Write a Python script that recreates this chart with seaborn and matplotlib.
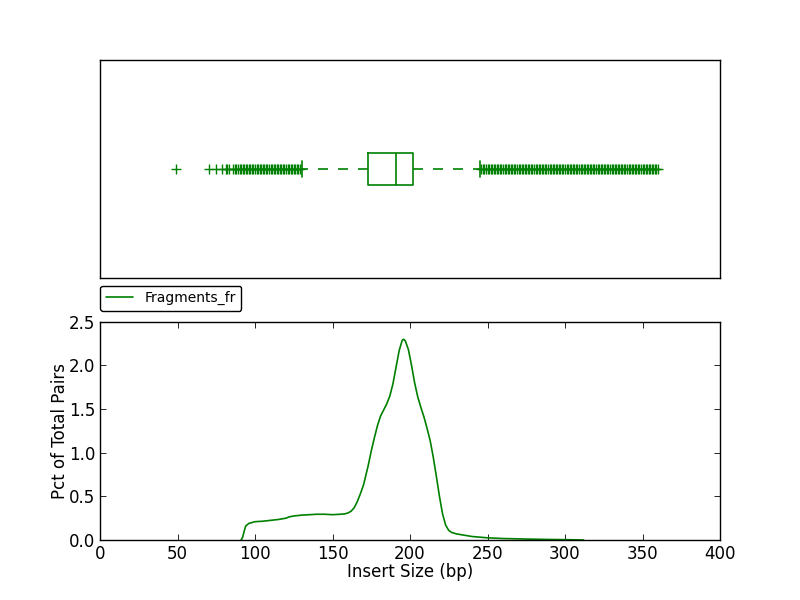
import numpy as np
import matplotlib
matplotlib.use('Agg')
import matplotlib.pyplot as plt
import seaborn as sns

# --- data ---
# insert size distribution (bottom panel)
insert_size = [91, 92, 93, 94, 96, 100, 105, 110, 115, 120, 122, 125, 130, 135, 140,
               145, 150, 155, 158, 160, 162, 164, 166, 168, 170, 173, 175, 177, 179,
               181, 183, 185, 187, 189, 191, 193, 195, 196, 197, 199, 201, 203, 205,
               207, 209, 211, 213, 215, 217, 219, 221, 223, 225, 227, 230, 235, 240,
               250, 260, 275, 290, 300, 312]
pct_pairs = [0.0, 0.03, 0.10, 0.16, 0.19, 0.21, 0.215, 0.225, 0.235, 0.25, 0.265,
             0.275, 0.285, 0.29, 0.295, 0.295, 0.29, 0.295, 0.30, 0.31, 0.33, 0.37,
             0.44, 0.53, 0.63, 0.85, 1.02, 1.17, 1.31, 1.42, 1.49, 1.56, 1.65, 1.79,
             1.98, 2.17, 2.29, 2.30, 2.28, 2.18, 2.00, 1.80, 1.64, 1.52, 1.41, 1.28,
             1.14, 0.95, 0.73, 0.50, 0.30, 0.17, 0.11, 0.085, 0.07, 0.055, 0.04,
             0.025, 0.017, 0.011, 0.006, 0.004, 0.0]

# box plot (top panel): outliers, whisker ends, quartiles
fliers_low = [49, 70, 75, 79, 81, 82, 83] + list(range(86, 130))
fliers_high = list(range(246, 361))
whisker_ends = [130, 245]
quartiles = [173, 191, 202]   # Q1, median, Q3
quartile_weight = 400          # samples sitting on each quartile value

box_data = fliers_low + whisker_ends + list(np.repeat(quartiles, quartile_weight)) + fliers_high

# --- style ---
sns.set_style('white')
plt.rcParams.update({
    'font.family': ['DejaVu Sans'],
    'font.size': 12,
    'text.color': 'black',
    'axes.labelcolor': 'black',
    'axes.edgecolor': 'black',
    'axes.linewidth': 1.0,
    'xtick.direction': 'in',
    'ytick.direction': 'in',
    'xtick.top': True,
    'ytick.right': True,
    'xtick.bottom': True,
    'ytick.left': True,
    'xtick.major.size': 4,
    'ytick.major.size': 4,
    'xtick.major.width': 0.6,
    'ytick.major.width': 0.6,
    'xtick.color': 'black',
    'ytick.color': 'black',
    'xtick.labelsize': 12,
    'ytick.labelsize': 12,
    'axes.labelsize': 12,
})

fig = plt.figure(figsize=(8, 6), dpi=100)
fig.subplots_adjust(left=0.125, right=0.9, top=0.9, bottom=0.1, hspace=0.2)
ax1 = fig.add_subplot(2, 1, 1)
ax2 = fig.add_subplot(2, 1, 2)

# --- top: box plot ---
dash = (0, (6, 6))
sns.boxplot(x=box_data, ax=ax1, orient='h', width=0.15, fill=False,
            color='green', linecolor='green', saturation=1, linewidth=1.2,
            whis=1.5,
            whiskerprops=dict(linestyle=dash, color='green'),
            capprops=dict(color='green'),
            medianprops=dict(color='green'),
            flierprops=dict(marker='+', markersize=7, markeredgecolor='green',
                            markeredgewidth=1.0))
ax1.set_xlim(0, 400)
ax1.set_ylim(0.5, -0.5)
ax1.set_xticks([])
ax1.set_yticks([])
ax1.set_xlabel('')
ax1.set_ylabel('')

# --- bottom: insert size distribution ---
sns.lineplot(x=insert_size, y=pct_pairs, ax=ax2, color='green', linewidth=1.2,
             label='Fragments_fr')
ax2.set_xlim(0, 400)
ax2.set_ylim(0, 2.5)
ax2.set_xticks(range(0, 401, 50))
ax2.set_yticks([0.0, 0.5, 1.0, 1.5, 2.0, 2.5])
ax2.set_yticklabels(['0.0', '0.5', '1.0', '1.5', '2.0', '2.5'])
ax2.set_xlabel('Insert Size (bp)', labelpad=0)
ax2.set_ylabel('Pct of Total Pairs', labelpad=0)
leg = ax2.legend(loc='lower left', bbox_to_anchor=(0, 1.05), borderaxespad=0,
                 fontsize=10, fancybox=True, framealpha=1, edgecolor='black',
                 handlelength=2.0)
leg.get_frame().set_linewidth(1.0)

plt.savefig('out.png', dpi=100)
